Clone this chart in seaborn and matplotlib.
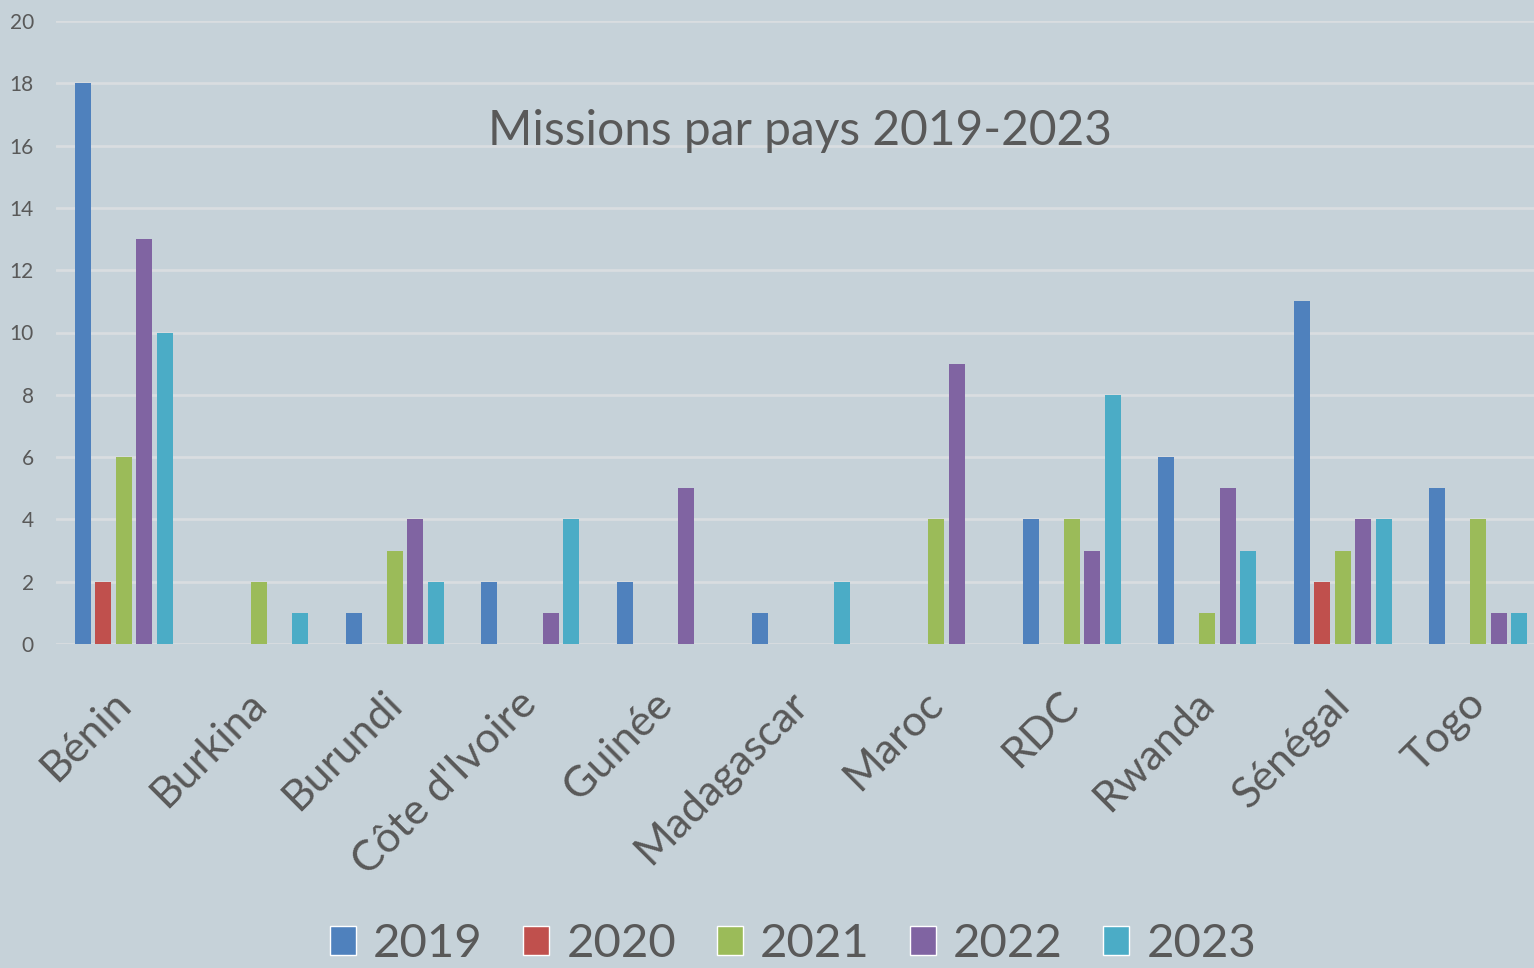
import matplotlib.pyplot as plt
import matplotlib.transforms as mtransforms
import pandas as pd
import seaborn as sns
from matplotlib.patches import Patch

countries = ["Bénin", "Burkina", "Burundi", "Côte d'Ivoire", "Guinée", "Madagascar",
             "Maroc", "RDC", "Rwanda", "Sénégal", "Togo"]
years = ["2019", "2020", "2021", "2022", "2023"]
m2019 = [18, 0, 1, 2, 2, 1, 0, 4, 6, 11, 5]
m2020 = [2, 0, 0, 0, 0, 0, 0, 0, 0, 2, 0]
m2021 = [6, 2, 3, 0, 0, 0, 4, 4, 1, 3, 4]
m2022 = [13, 0, 4, 1, 5, 0, 9, 3, 5, 4, 1]
m2023 = [10, 1, 2, 4, 0, 2, 0, 8, 3, 4, 1]
colors = ["#4F81BD", "#C0504D", "#9BBB59", "#8064A2", "#4BACC6"]

BG = "#C6D2D9"
TXT = "#595959"

rows = []
for year, vals in zip(years, [m2019, m2020, m2021, m2022, m2023]):
    for c, v in zip(countries, vals):
        rows.append({"pays": c, "annee": year, "missions": v})
df = pd.DataFrame(rows)

sns.set_style("white")
plt.rcParams["font.family"] = ["Lato", "DejaVu Sans"]

W, H = 1534, 968
fig = plt.figure(figsize=(W / 100, H / 100), dpi=100, facecolor=BG)
# plot area runs a little past the right edge of the figure
ax = fig.add_axes([56 / W, 324 / H, 1490 / W, 623 / H])
ax.set_facecolor(BG)

sns.barplot(data=df, x="pays", y="missions", hue="annee", palette=colors,
            width=0.756, gap=0.22, ax=ax, legend=False, saturation=1,
            edgecolor="none")

ax.set_ylim(0, 20)
ax.set_xlim(-0.5, len(countries) - 0.5)
ax.set_yticks(range(0, 21, 2))
ax.yaxis.grid(True, color="#D9DDE0", linewidth=2)
ax.set_axisbelow(True)
for s in ax.spines.values():
    s.set_visible(False)
ax.set_xlabel("")
ax.set_ylabel("")
ax.tick_params(axis="y", length=0, labelsize=15, labelcolor=TXT, pad=16)
ax.tick_params(axis="x", length=0, labelsize=31, labelcolor=TXT, pad=14)
shift = mtransforms.ScaledTranslation(-0.13, -0.21, fig.dpi_scale_trans)
for lab in ax.get_xticklabels():
    lab.set_rotation(45)
    lab.set_ha("right")
    lab.set_rotation_mode("anchor")
    lab.set_transform(lab.get_transform() + shift)

fig.text(800 / W, 1 - 131 / H, "Missions par pays 2019-2023", fontsize=34.5,
         color=TXT, ha="center", va="center")

handles = [Patch(facecolor=c, label=y) for c, y in zip(colors, years)]
fig.legend(handles=handles, loc="lower center", bbox_to_anchor=(0.517, -0.041),
           ncol=5, frameon=False, fontsize=34, labelcolor=TXT,
           handlelength=0.55, handleheight=0.55, handletextpad=0.36, columnspacing=0.86)

fig.savefig("out.png", dpi=100, facecolor=BG)
